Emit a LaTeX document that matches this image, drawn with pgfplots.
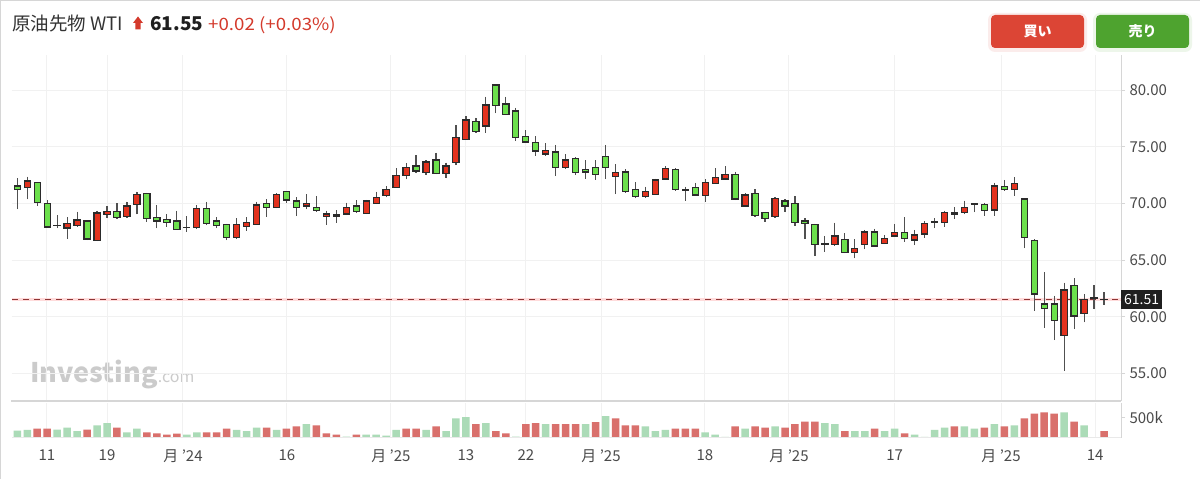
\documentclass[border=0pt]{standalone}
\usepackage{pgfplots}
\pgfplotsset{compat=1.18}
\usepackage{pgfplotstable}
\usepgfplotslibrary{statistics}
\usepackage{fontspec}
\setmainfont{Noto Sans CJK JP}

\definecolor{upc}{HTML}{E3321E}
\definecolor{dnc}{HTML}{6CE04C}
\definecolor{edgec}{HTML}{2B2B2B}
\definecolor{wickc}{HTML}{505050}
\definecolor{volup}{HTML}{D9706C}
\definecolor{voldn}{HTML}{ABDBB7}
\definecolor{gridc}{HTML}{F1F1F1}
\definecolor{linec}{HTML}{D6D6D6}
\definecolor{labc}{HTML}{4A4A4A}
\definecolor{hdrgray}{HTML}{333333}
\definecolor{hdrred}{HTML}{D43A2C}
\definecolor{btnred}{HTML}{DC4535}
\definecolor{btngreen}{HTML}{4EA32F}
\definecolor{wm}{HTML}{CBCBCB}
\definecolor{pricel}{HTML}{8E3535}

\pgfplotstableread{
i o h l c
0 71.53 72.21 69.47 71.24
1 71.41 72.35 70.35 71.97
2 71.85 71.90 69.76 70.06
3 69.97 70.29 67.85 67.91
4 68.05 68.97 67.79 68.03
5 67.82 68.76 66.88 68.23
6 68.03 69.26 67.94 68.53
7 68.44 68.53 66.76 66.85
8 66.73 69.35 66.67 69.15
9 69.03 69.76 68.68 69.26
10 69.26 70.00 68.70 68.73
11 68.82 70.15 68.80 69.76
12 69.88 71.03 69.03 70.79
13 70.88 70.94 68.38 68.68
14 68.76 69.85 67.79 68.44
15 68.59 69.06 67.94 68.29
16 68.44 69.35 67.65 67.71
17 67.87 68.88 67.50 67.85
18 67.85 69.85 67.82 69.56
19 69.56 70.15 68.06 68.23
20 68.44 68.76 67.79 68.03
21 68.15 68.20 66.73 66.97
22 66.97 68.68 66.90 68.15
23 67.94 68.76 67.59 68.32
24 68.15 70.15 68.09 69.85
25 70.00 70.35 68.82 69.65
26 69.65 70.88 69.56 70.79
27 71.03 71.05 70.06 70.29
28 70.21 70.53 68.88 69.65
29 69.76 70.82 69.47 70.00
30 69.62 70.65 69.26 69.35
31 68.82 69.35 68.09 69.06
32 68.82 69.41 68.29 68.97
33 69.06 70.06 68.97 69.65
34 69.76 70.29 69.18 69.26
35 69.12 70.30 69.05 70.21
36 70.00 71.03 69.94 70.53
37 70.68 71.53 70.53 71.24
38 71.41 73.09 71.38 72.44
39 72.44 73.53 72.12 73.18
40 73.29 74.24 72.65 72.85
41 72.73 73.82 72.50 73.65
42 73.82 74.47 72.56 72.65
43 72.65 73.59 72.21 73.29
44 73.59 76.91 73.38 75.79
45 75.65 77.70 75.59 77.35
46 77.21 77.56 76.26 76.32
47 76.82 79.41 76.23 78.68
48 80.44 80.53 77.94 78.62
49 78.76 79.41 77.79 77.85
50 78.15 78.44 75.53 75.82
51 75.88 76.47 75.35 75.41
52 75.38 75.94 74.18 74.62
53 74.35 75.29 74.18 74.65
54 74.53 75.15 72.41 73.18
55 73.18 74.35 73.03 73.82
56 73.94 74.06 72.50 72.70
57 73.00 73.82 72.15 72.76
58 73.18 73.82 72.06 72.56
59 74.12 75.15 72.15 73.18
60 72.35 73.44 70.82 72.71
61 72.76 73.00 70.97 71.03
62 71.24 71.85 70.44 70.59
63 70.59 71.47 70.53 71.03
64 70.79 72.18 70.74 72.06
65 72.15 73.29 72.12 73.09
66 73.00 73.09 71.09 71.24
67 71.20 71.47 70.23 71.18
68 71.41 71.82 70.65 70.74
69 70.68 72.12 70.15 71.82
70 71.76 73.09 71.71 72.26
71 72.15 73.29 72.06 72.56
72 72.56 72.79 70.29 70.38
73 69.76 70.88 69.70 70.74
74 70.88 71.24 68.76 68.94
75 69.18 69.26 68.38 68.68
76 68.82 70.53 68.76 70.44
77 70.21 70.35 69.21 69.76
78 70.00 70.65 68.00 68.32
79 68.44 68.68 66.85 68.24
80 68.15 68.20 65.35 66.38
81 66.43 67.12 65.74 66.41
82 66.38 68.29 66.24 67.12
83 66.82 67.35 65.59 65.68
84 65.68 66.82 65.15 65.99
85 66.38 67.65 65.94 67.47
86 67.47 67.76 66.18 66.24
87 66.47 67.21 66.41 66.88
88 67.12 68.18 67.06 67.41
89 67.41 68.76 66.62 66.88
90 66.76 67.65 66.32 67.21
91 67.29 68.44 66.97 68.24
92 68.37 68.68 67.79 68.35
93 68.32 69.35 67.94 69.18
94 69.06 69.65 68.62 69.18
95 69.18 70.24 69.03 69.65
96 69.96 70.00 69.21 69.94
97 69.88 70.06 68.91 69.35
98 69.41 71.82 68.91 71.53
99 71.47 72.06 71.12 71.24
100 71.24 72.29 70.65 71.76
101 70.38 70.44 66.03 66.97
102 66.71 66.85 60.53 62.00
103 61.12 63.91 59.03 60.71
104 61.12 61.85 57.94 59.65
105 58.32 63.00 55.21 62.35
106 62.76 63.38 58.91 60.06
107 60.29 61.97 59.50 61.53
108 61.67 62.79 60.65 61.65
109 61.51 62.15 61.03 61.55
}\candles

\pgfplotstableread{
i v u
0 180 0
1 197 0
2 230 1
3 230 1
4 205 0
5 254 0
6 172 0
7 205 1
8 312 0
9 369 0
10 254 1
11 139 0
12 230 0
13 139 1
14 115 1
15 82 1
16 107 1
17 82 0
18 139 0
19 139 1
20 139 1
21 230 1
22 197 0
23 172 0
24 254 0
25 254 1
26 197 0
27 230 1
28 287 1
29 344 0
30 312 1
31 115 1
32 82 1
33 33 0
34 82 1
35 82 0
36 82 0
37 57 0
38 197 0
39 230 1
40 230 1
41 197 0
42 287 1
43 172 0
44 484 0
45 517 0
46 344 1
47 369 0
48 172 1
49 115 1
50 33 0
51 344 1
52 369 1
53 344 0
54 344 1
55 344 1
56 344 1
57 344 0
58 394 1
59 541 0
60 484 1
61 312 1
62 312 1
63 287 0
64 172 0
65 197 0
66 230 1
67 230 1
68 230 1
69 139 0
70 82 0
71 25 0
72 287 1
73 230 0
74 287 1
75 254 1
76 287 0
77 254 1
78 344 1
79 402 1
80 402 1
81 369 0
82 344 0
83 172 1
84 172 0
85 172 0
86 230 1
87 172 0
88 230 0
89 115 1
90 82 0
91 25 0
92 197 0
93 254 0
94 287 1
95 287 0
96 230 0
97 254 1
98 344 0
99 287 1
100 312 0
101 484 1
102 599 1
103 631 1
104 599 1
105 631 0
106 402 1
107 312 0
108 0 0
109 172 1
}\vols

\begin{document}
\begin{tikzpicture}[x=1pt,y=1pt]
\useasboundingbox (0,0) rectangle (1200,479);
\fill[white] (0,0) rectangle (1200,479);
\draw[linec, line width=1.2pt] (0,478.4) -- (1200,478.4);
\draw[linec, line width=1.2pt] (0.6,0) -- (0.6,479);

% header
\node[anchor=base west, inner sep=0, text=hdrgray, font=\fontsize{18.5}{20}\selectfont] at (12,448) {原油先物 WTI};
\fill[hdrred] (133,456) -- (138,462.5) -- (143,456) -- (140.6,456) -- (140.6,449.5) -- (135.4,449.5) -- (135.4,456) -- cycle;
\node[anchor=base west, inner sep=0, text=black!88, font=\fontsize{19}{20}\selectfont\bfseries] at (150,448) {61.55};
\node[anchor=base west, inner sep=0, text=hdrred, font=\fontsize{17}{18}\selectfont, xscale=1.1] at (208,448) {+0.02 (+0.03\%)};

% buttons
\fill[btnred!10, rounded corners=7pt] (988,427) rectangle (1087,466);
\fill[btnred, rounded corners=4pt] (991,431) rectangle (1084,464);
\node[text=white, font=\fontsize{14}{16}\selectfont\bfseries] at (1037.5,447.5) {買い};
\fill[btngreen!10, rounded corners=7pt] (1093,427) rectangle (1192,466);
\fill[btngreen, rounded corners=4pt] (1096,431) rectangle (1189,464);
\node[text=white, font=\fontsize{14}{16}\selectfont\bfseries] at (1142.5,447.5) {売り};

% watermark
\node[anchor=base west, inner sep=0, text=wm] at (30,96) {\fontsize{27}{30}\selectfont\bfseries Investing\fontsize{16}{20}\mdseries\selectfont .com};

\begin{axis}[at={(12pt,78pt)}, anchor=south west, width=1109pt, height=346pt, scale only axis,
  xmin=-0.53, xmax=110.7, ymin=52.56, ymax=83.09,
  axis line style={draw=none},
  xtick={2.98,9,16.62,27.05,37.48,45,51.02,58.55,68.97,77.4,88,98.67,108.1},
  xticklabels={},
  xmajorgrids, ymajorgrids, grid style={draw=gridc, line width=1pt},
  x tick style={draw=none},
  ytick={55,60,65,70,75,80},
  ytick pos=right, yticklabel pos=right,
  tick align=outside, major tick length=4pt,
  y tick style={draw=linec, line width=0.8pt},
  /pgf/number format/assume math mode=true,
  yticklabel style={font=\fontsize{15}{18}\selectfont, text=labc, xshift=1pt,
    /pgf/number format/.cd, fixed, fixed zerofill, precision=2},
  boxplot/draw direction=y,
  boxplot/whisker extend=0,
  boxplot/every whisker/.style={draw=wickc, line width=1.2pt},
  boxplot/every median/.style={draw=edgec},
]
\addplot[draw=red!14, line width=2.2pt] coordinates {(-0.53,61.51) (110.7,61.51)};
\addplot[draw=pricel, line width=1.1pt, dash pattern=on 6pt off 5pt] coordinates {(-0.53,61.51) (110.7,61.51)};
\pgfplotsinvokeforeach{0,...,109}{
  \pgfplotstablegetelem{#1}{o}\of\candles \let\vo=\pgfplotsretval
  \pgfplotstablegetelem{#1}{h}\of\candles \let\vh=\pgfplotsretval
  \pgfplotstablegetelem{#1}{l}\of\candles \let\vl=\pgfplotsretval
  \pgfplotstablegetelem{#1}{c}\of\candles \let\vc=\pgfplotsretval
  \pgfmathsetmacro{\vlo}{min(\vo,\vc)}
  \pgfmathsetmacro{\vhi}{max(\vo,\vc)}
  \pgfmathtruncatemacro{\isup}{\vc>\vo}
  \ifnum\isup=1 \def\fc{upc}\else\def\fc{dnc}\fi
  \edef\doplot{\noexpand\addplot[draw=edgec, fill=\fc, line width=1.2pt,
    boxplot prepared={lower whisker=\vl, lower quartile=\vlo, median=\vlo,
      upper quartile=\vhi, upper whisker=\vh, draw position=#1, box extend=0.62}]
    coordinates {};}
  \doplot
}
\coordinate (plab) at (axis cs:110.7,61.51);
\end{axis}

\begin{axis}[at={(12pt,41pt)}, anchor=south west, width=1109pt, height=35pt, scale only axis,
  xmin=-0.53, xmax=110.7, ymin=0, ymax=862,
  axis line style={draw=none},
  xtick={2.98,9,16.62,27.05,37.48,45,51.02,58.55,68.97,77.4,88,98.67,108.1},
  xticklabels={11,19,月 '24,16,月 '25,13,22,月 '25,18,月 '25,17,月 '25,14},
  xmajorgrids, grid style={draw=gridc, line width=1pt},
  x tick style={draw=none},
  xticklabel style={font=\fontsize{15}{18}\selectfont, text=labc, yshift=-4pt},
  ytick={500}, yticklabels={500k},
  ytick pos=right, yticklabel pos=right,
  tick align=outside, major tick length=4pt,
  y tick style={draw=linec, line width=0.8pt},
  yticklabel style={font=\fontsize{15}{18}\selectfont, text=labc, xshift=1pt},
]
\addplot[ybar, bar width=7.5pt, bar shift=0pt, draw=none, fill=volup] table[x=i, y expr=\thisrow{v}*\thisrow{u}] {\vols};
\addplot[ybar, bar width=7.5pt, bar shift=0pt, draw=none, fill=voldn] table[x=i, y expr=\thisrow{v}*(1-\thisrow{u})] {\vols};
\end{axis}

% frame lines
\draw[linec, line width=2pt] (11,78) -- (1121,78);
\draw[linec, line width=1pt] (1121,78) -- (1121,424);
\draw[linec, line width=1pt] (1121,41) -- (1121,76);
\draw[gridc!70!linec, line width=1pt] (12,41) -- (1121,41);
\node[anchor=west, fill=black!88, text=white, font=\fontsize{14}{16}\selectfont, inner xsep=3pt, minimum height=19pt, inner ysep=0pt] at (plab) {61.51};
\end{tikzpicture}
\end{document}
